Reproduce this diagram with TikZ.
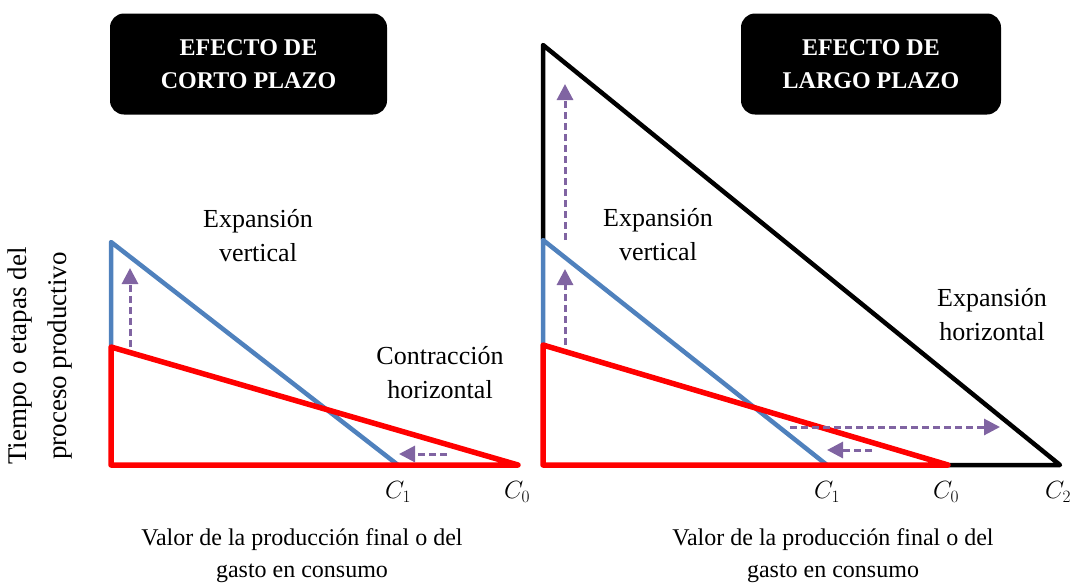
\documentclass[tikz,border=0pt]{standalone}
\usepackage{xcolor}
\usepackage{fontspec}
\setmainfont{Liberation Serif}
\usetikzlibrary{arrows.meta}
\definecolor{azul}{HTML}{4F81BD}
\definecolor{lila}{HTML}{8064A2}
\tikzstyle{titulo} = [rectangle, rounded corners=14pt, minimum width=277pt, minimum height=101pt, align=center, fill=black, text=white, font=\fontsize{24}{33}\selectfont\bfseries]
\tikzstyle{etiqueta} = [align=center, font=\fontsize{26}{34}\selectfont]
\tikzstyle{eje} = [align=center, font=\fontsize{24}{32}\selectfont]
\tikzstyle{rojo} = [line width=5.5pt, red, line join=round, line cap=round]
\tikzstyle{azl} = [line width=4.5pt, azul, line join=round]
\tikzstyle{negro} = [line width=4.5pt, black, line join=round]
\tikzstyle{flecha} = [line width=3pt, lila, dash pattern=on 7pt off 4pt, -{Triangle[length=16pt,width=16pt]}]

\begin{document}
\begin{tikzpicture}[x=1pt, y=-1pt]
\useasboundingbox (0,0) rectangle (1074,587);
% corto plazo
\node (corto) [titulo] at (248.5,64) {EFECTO DE\\CORTO PLAZO};
\coordinate (l_azul) at (111,242);
\coordinate (l_rojo) at (111,347);
\coordinate (l_o) at (111,465);
\coordinate (l_c1) at (398,465);
\coordinate (l_c0) at (518,465);
\draw[azl] (l_rojo) -- (l_azul) -- (l_c1);
\draw[rojo] (l_rojo) -- (l_o) -- (l_c0) -- cycle;
\coordinate (l_up_a) at (130,347);
\coordinate (l_up_b) at (130,268);
\coordinate (l_h_a) at (447,454);
\coordinate (l_h_b) at (399,454);
\draw[flecha] (l_up_a) -- (l_up_b);
\draw[flecha] (l_h_a) -- (l_h_b);
\node (l_exp) [etiqueta] at (258,236) {Expansión\\vertical};
\node (l_con) [etiqueta] at (440,373) {Contracción\\horizontal};
\node (l_lc1) [font=\fontsize{23}{25}\selectfont] at (398,492) {$C_1$};
\node (l_lc0) [font=\fontsize{23}{25}\selectfont] at (517,492) {$C_0$};
\node (l_valor) [eje] at (302,556) {Valor de la producción final o del\\gasto en consumo};
\node (tiempo) [align=center, font=\fontsize{27}{40}\selectfont, rotate=90] at (40,356) {Tiempo o etapas del\\proceso productivo};

% largo plazo
\node (largo) [titulo, minimum width=260pt] at (871,64) {EFECTO DE\\LARGO PLAZO};
\coordinate (r_negro) at (543,45);
\coordinate (r_azul) at (543,240);
\coordinate (r_rojo) at (543,345);
\coordinate (r_o) at (543,465);
\coordinate (r_c1) at (827,465);
\coordinate (r_c0) at (948,465);
\coordinate (r_c2) at (1060,465);
\draw[negro] (r_azul) -- (r_negro) -- (r_c2) -- (r_c0);
\draw[azl] (r_rojo) -- (r_azul) -- (r_c1);
\draw[rojo] (r_rojo) -- (r_o) -- (r_c0) -- cycle;
\coordinate (r_up1_a) at (565,240);
\coordinate (r_up1_b) at (565,84);
\coordinate (r_up2_a) at (565,345);
\coordinate (r_up2_b) at (565,269);
\coordinate (r_der_a) at (790,427);
\coordinate (r_der_b) at (1000,427);
\coordinate (r_izq_a) at (872,450);
\coordinate (r_izq_b) at (827,450);
\draw[flecha] (r_up1_a) -- (r_up1_b);
\draw[flecha] (r_up2_a) -- (r_up2_b);
\draw[flecha] (r_der_a) -- (r_der_b);
\draw[flecha] (r_izq_a) -- (r_izq_b);
\node (r_exp) [etiqueta] at (658,235) {Expansión\\vertical};
\node (r_hor) [etiqueta] at (992,315) {Expansión\\horizontal};
\node (r_lc1) [font=\fontsize{23}{25}\selectfont] at (827,492) {$C_1$};
\node (r_lc0) [font=\fontsize{23}{25}\selectfont] at (946,492) {$C_0$};
\node (r_lc2) [font=\fontsize{23}{25}\selectfont] at (1058,492) {$C_2$};
\node (r_valor) [eje] at (833,556) {Valor de la producción final o del\\gasto en consumo};
\end{tikzpicture}
\end{document}
